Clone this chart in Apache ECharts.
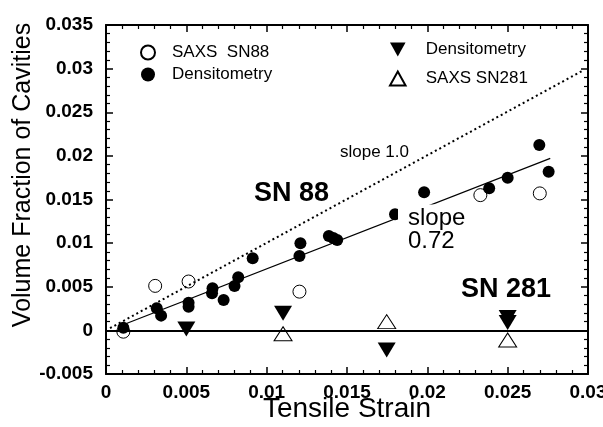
<!DOCTYPE html>
<html lang="en">
<head>
<meta charset="UTF-8">
<title>Volume Fraction of Cavities</title>
<script src="https://cdn.jsdelivr.net/npm/echarts@6/dist/echarts.min.js"></script>
<style>
html, body { margin:0; padding:0; background:#fff; }
#main { width:603px; height:427px; }
</style>
</head>
<body>
<div id="main"></div>
<script>
// tick values
var xTicks = [0, 0.005, 0.01, 0.015, 0.02, 0.025, 0.03];
var yTicks = [-0.005, 0, 0.005, 0.01, 0.015, 0.02, 0.025, 0.03, 0.035];

// SN88 - SAXS (open circles)
var sn88Saxs = [
  [0.00108, -0.00015], [0.00306, 0.0051], [0.00514, 0.0056],
  [0.01204, 0.00444], [0.0233, 0.0155], [0.0270, 0.0157]
];
// SN88 - densitometry (filled circles)
var sn88Dens = [
  [0.00108, 0.0003], [0.00316, 0.00253], [0.00343, 0.00169], [0.00514, 0.00318],
  [0.00514, 0.00272], [0.00663, 0.00483], [0.0066, 0.00425], [0.00732, 0.00348],
  [0.008, 0.00509], [0.00823, 0.00608], [0.00913, 0.00826], [0.01204, 0.00853],
  [0.0121, 0.00998], [0.01387, 0.01082], [0.01415, 0.0106], [0.01439, 0.01036],
  [0.01799, 0.0133], [0.0198, 0.01583], [0.02385, 0.01628], [0.025, 0.0175],
  [0.02697, 0.02125], [0.02755, 0.01819]
];
// SN281 - densitometry (down triangles)
var sn281Dens = [
  [0.005, 0.00016], [0.01102, 0.00196], [0.01747, -0.00225],
  [0.025, 0.00148], [0.025, 0.0009]
];
// SN281 - SAXS (open up triangles)
var sn281Saxs = [
  [0.01102, -0.00039], [0.01747, 0.001], [0.025, -0.0011]
];
// reference lines (end points)
var slopeOneLine = [[0.00025, 0.00025], [0.0297, 0.0298]];
var fitLine = [[0.00087, 0.0005], [0.02765, 0.01972]];
var zeroLine = [[0, 0], [0.03, 0]];

var FONT = 'Liberation Sans';
var chart = echarts.init(document.getElementById('main'), null, {renderer: 'canvas'});

function axisBase(min, max, step) {
  return {
    min: min, max: max, interval: step,
    axisLine: { show: true, onZero: false, lineStyle: { color: '#000', width: 2 } },
    axisTick: { show: true, inside: true, length: 7, lineStyle: { color: '#000', width: 1.5 } },
    minorTick: { show: true, splitNumber: 5, length: 4, lineStyle: { color: '#000', width: 1.2 } },
    splitLine: { show: false }
  };
}

// line segment for markLine, built from two points
function seg(pts, style) {
  return [{ coord: pts[0], lineStyle: style }, { coord: pts[1] }];
}

var xMain = axisBase(xTicks[0], xTicks[xTicks.length - 1], xTicks[1] - xTicks[0]);
xMain.type = 'value';
xMain.position = 'bottom';
xMain.axisLabel = { fontFamily: FONT, fontWeight: 'bold', fontSize: 19, color: '#000', margin: 9,
  formatter: function (v) { return String(+v.toFixed(3)); } };

var xTop = axisBase(xTicks[0], xTicks[xTicks.length - 1], xTicks[1] - xTicks[0]);
xTop.type = 'value';
xTop.position = 'top';
xTop.axisLabel = { show: false };

var yMain = axisBase(yTicks[0], yTicks[yTicks.length - 1], yTicks[2] - yTicks[1]);
yMain.type = 'value';
yMain.position = 'left';
yMain.axisLabel = { fontFamily: FONT, fontWeight: 'bold', fontSize: 19, color: '#000', margin: 13,
  formatter: function (v) { return String(+v.toFixed(3)); } };

var yRight = axisBase(yTicks[0], yTicks[yTicks.length - 1], yTicks[2] - yTicks[1]);
yRight.type = 'value';
yRight.position = 'right';
yRight.axisLabel = { show: false };

var openStyle = { color: '#fff', borderColor: '#000', borderWidth: 1, opacity: 1 };
var fillStyle = { color: '#000', opacity: 1 };

var option = {
  animation: false,
  backgroundColor: '#fff',
  textStyle: { fontFamily: FONT },
  grid: { left: 106, right: 15, top: 25, bottom: 53, containLabel: false, outerBoundsMode: 'none' },
  xAxis: [xMain, xTop],
  yAxis: [yMain, yRight],
  legend: [
    {
      orient: 'vertical', left: 135, top: 39,
      itemWidth: 14, itemHeight: 14, itemGap: 5,
      textStyle: { fontFamily: FONT, fontSize: 17, color: '#000', padding: [0, 0, 0, 12] },
      data: ['SAXS  SN88', 'Densitometry SN88'],
      formatter: function (n) { return n === 'Densitometry SN88' ? 'Densitometry' : n; },
      selectedMode: false
    },
    {
      orient: 'vertical', left: 384, top: 36,
      itemWidth: 16, itemHeight: 14, itemGap: 12,
      textStyle: { fontFamily: FONT, fontSize: 17, color: '#000', padding: [0, 0, 0, 15] },
      data: [
        { name: 'Densitometry SN281', icon: 'path://M0,0L10,0L5,9Z' },
        { name: 'SAXS SN281', icon: 'path://M5,0L10,9L0,9Z' }
      ],
      formatter: function (n) { return n === 'Densitometry SN281' ? 'Densitometry' : n; },
      selectedMode: false
    }
  ],
  series: [
    {
      name: 'SAXS  SN88', type: 'scatter', data: sn88Saxs,
      symbol: 'circle', symbolSize: 13, itemStyle: openStyle,
      markLine: {
        silent: true, animation: false, symbol: ['none', 'none'],
        label: { show: false }, emphasis: { disabled: true },
        data: [
          seg(zeroLine, { color: '#000', width: 2, type: 'solid' }),
          seg(slopeOneLine, { color: '#000', width: 2, type: [2, 3] }),
          seg(fitLine, { color: '#000', width: 1.2, type: 'solid' })
        ]
      }
    },
    {
      name: 'Densitometry SN88', type: 'scatter', data: sn88Dens,
      symbol: 'circle', symbolSize: 12, itemStyle: fillStyle, z: 3
    },
    {
      name: 'Densitometry SN281', type: 'scatter', data: sn281Dens,
      symbol: 'triangle', symbolRotate: 180, symbolSize: [18, 15], itemStyle: fillStyle, z: 3
    },
    {
      name: 'SAXS SN281', type: 'scatter', data: sn281Saxs,
      symbol: 'triangle', symbolSize: [18, 14], itemStyle: openStyle, z: 3
    }
  ],
  graphic: [
    // axis titles
    { type: 'text', z: 100, x: 347, y: 409,
      style: { text: 'Tensile Strain', font: '28px ' + FONT, fill: '#000', align: 'center', verticalAlign: 'middle' } },
    { type: 'text', z: 100, x: 23, y: 175, rotation: Math.PI / 2,
      style: { text: 'Volume Fraction of Cavities', font: '25px ' + FONT, fill: '#000', align: 'center', verticalAlign: 'middle' } },
    // annotations
    { type: 'text', z: 100, x: 340, y: 152,
      style: { text: 'slope 1.0', font: '17px ' + FONT, fill: '#000', verticalAlign: 'middle' } },
    { type: 'text', z: 100, x: 254, y: 194,
      style: { text: 'SN 88', font: 'bold 27px ' + FONT, fill: '#000', verticalAlign: 'middle' } },
    { type: 'text', z: 100, x: 398, y: 218,
      style: { text: 'slope', font: '24px ' + FONT, fill: '#000', verticalAlign: 'middle',
        backgroundColor: '#fff', padding: [3, 2, 0, 10] } },
    { type: 'text', z: 100, x: 408, y: 241,
      style: { text: '0.72', font: '24px ' + FONT, fill: '#000', verticalAlign: 'middle' } },
    { type: 'text', z: 100, x: 461, y: 290,
      style: { text: 'SN 281', font: 'bold 27px ' + FONT, fill: '#000', verticalAlign: 'middle' } }
  ]
};

chart.setOption(option);
</script>
</body>
</html>
